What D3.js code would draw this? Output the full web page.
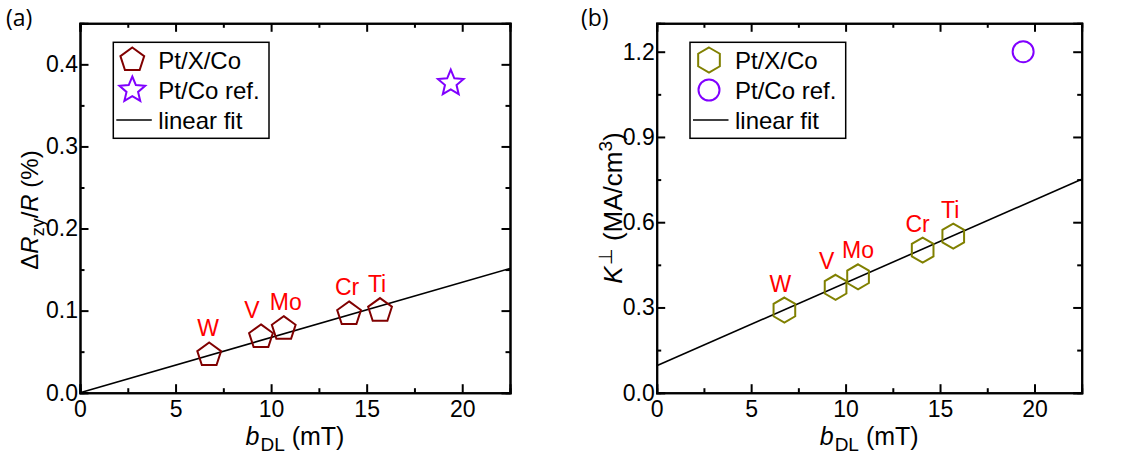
<!DOCTYPE html>
<html>
<head>
<meta charset="utf-8">
<script src="https://cdn.jsdelivr.net/npm/d3@7"></script>
<style>
  body { margin: 0; background: #fff; }
  svg { font-family: "Liberation Sans", Arial, sans-serif; }
</style>
</head>
<body>
<svg id="chart" width="1128" height="456"></svg>
<script>
// data
var metals = ["W", "V", "Mo", "Cr", "Ti"];
var bDL = [6.76, 9.47, 10.66, 14.08, 15.7];
var dRzy = [0.046, 0.068, 0.078, 0.096, 0.100];
var kPerp = [0.291, 0.371, 0.408, 0.502, 0.551];
var refB = [19.4];
var refDR = [0.377];
var refK = [1.2];
var fitDR = [0, 0.00673];     // intercept, slope
var fitK = [0.095, 0.02916];
var xMajor = [0, 5, 10, 15, 20];
var xMinor = [2.5, 7.5, 12.5, 17.5];
var yMajorA = [0, 0.1, 0.2, 0.3, 0.4];
var yMinorA = [0.05, 0.15, 0.25, 0.35];
var yMajorB = [0, 0.3, 0.6, 0.9, 1.2];
var yMinorB = [0.15, 0.45, 0.75, 1.05];

// little nudges for the metal labels (px)
var labelDxA = [-1, -9, 2, -2, -3];
var labelDxB = [-4, -9, 0, -5, -3];

var svg = d3.select("#chart");

// regular polygon / star path centred on 0,0
function polyPath(n, r, inner) {
    var pts = [];
    var steps = inner ? n * 2 : n;
    for (var i = 0; i < steps; i++) {
        var a = -Math.PI / 2 + i * Math.PI * 2 / steps;
        var rr = (inner && i % 2 == 1) ? r * inner : r;
        pts.push([rr * Math.cos(a), rr * Math.sin(a)]);
    }
    return "M" + pts.map(function(p) { return p[0].toFixed(2) + "," + p[1].toFixed(2); }).join("L") + "Z";
}

var shapes = {
    pentagon: function() { return polyPath(5, 12.5); },
    star: function() { return polyPath(5, 13.5, 0.45); },
    hexagon: function() { return polyPath(6, 12.5); },
    circle: function() { return d3.arc()({innerRadius: 0, outerRadius: 10.5, startAngle: 0, endAngle: 2 * Math.PI}); }
};

function drawPanel(o) {
    var x = d3.scaleLinear().domain([0, 22.5]).range([o.left, o.right]);
    var y = d3.scaleLinear().domain([0, o.yMax]).range([392.7, 23.3]);
    var g = svg.append("g");

    // frame ticks (inward, mirrored)
    function axisSet(axis, ticks, size, fmt, transform, pad) {
        var a = axis.tickValues(ticks).tickSize(-size).tickPadding(pad || 3);
        if (!fmt) a.tickFormat("");
        else a.tickFormat(fmt);
        var ax = g.append("g").attr("transform", transform).call(a);
        ax.select(".domain").attr("stroke-width", 2);
        ax.selectAll(".tick line").attr("stroke-width", 2);
        ax.selectAll("text").attr("font-size", 23).attr("fill", "#000")
            .attr("font-family", "Liberation Sans, Arial, sans-serif");
        return ax;
    }
    var bottom = "translate(0," + y(0) + ")", top = "translate(0," + y(o.yMax) + ")";
    var leftT = "translate(" + x(0) + ",0)", rightT = "translate(" + x(22.5) + ",0)";

    axisSet(d3.axisBottom(x), xMinor, 4.5, null, bottom);
    axisSet(d3.axisTop(x), xMinor, 4.5, null, top);
    axisSet(d3.axisLeft(y), o.yMinor, 4.5, null, leftT);
    axisSet(d3.axisRight(y), o.yMinor, 4.5, null, rightT);
    axisSet(d3.axisTop(x), xMajor, 8.5, null, top);
    axisSet(d3.axisRight(y), o.yMajor, 8.5, null, rightT);
    axisSet(d3.axisBottom(x), xMajor, 8.5, d3.format("d"), bottom, 8);
    axisSet(d3.axisLeft(y), o.yMajor, 8.5, d3.format(".1f"), leftT, 2);

    // linear fit
    g.append("line")
        .attr("x1", x(0)).attr("y1", y(o.fit[0]))
        .attr("x2", x(22.5)).attr("y2", y(o.fit[0] + o.fit[1] * 22.5))
        .attr("stroke", "#000").attr("stroke-width", 1.6);

    // Pt/X/Co points
    g.selectAll(".pt").data(bDL).enter().append("path")
        .attr("class", "pt")
        .attr("d", shapes[o.shape])
        .attr("transform", function(d, i) { return "translate(" + x(d) + "," + y(o.vals[i]) + ")"; })
        .attr("fill", "none").attr("stroke", o.color).attr("stroke-width", 2);

    g.selectAll(".lab").data(metals).enter().append("text")
        .attr("class", "lab")
        .attr("x", function(d, i) { return x(bDL[i]) + o.labelDx[i]; })
        .attr("y", function(d, i) { return y(o.vals[i]) - 18.5; })
        .attr("text-anchor", "middle")
        .attr("font-size", 23).attr("fill", "#ff0000")
        .text(function(d) { return d; });

    // reference point
    g.selectAll(".ref").data(refB).enter().append("path")
        .attr("class", "ref")
        .attr("d", shapes[o.refShape])
        .attr("transform", function(d, i) { return "translate(" + x(d) + "," + y(o.ref[i]) + ")"; })
        .attr("fill", "none").attr("stroke", "#8000ff").attr("stroke-width", 2);

    // legend
    var lx = o.left + 33.3, ly = 42.3;
    g.append("rect").attr("x", lx).attr("y", ly).attr("width", 155.7).attr("height", 96)
        .attr("fill", "#fff").attr("stroke", "#000").attr("stroke-width", 1.5);
    var rows = [
        {t: "Pt/X/Co", shape: o.shape, c: o.color, y: 60},
        {t: "Pt/Co ref.", shape: o.refShape, c: "#8000ff", y: 90},
        {t: "linear fit", shape: null, c: "#000", y: 120}
    ];
    rows.forEach(function(r) {
        if (r.shape) {
            g.append("path").attr("d", shapes[r.shape]())
                .attr("transform", "translate(" + (lx + 19) + "," + r.y + ")")
                .attr("fill", "none").attr("stroke", r.c).attr("stroke-width", 2);
        } else {
            g.append("line").attr("x1", lx + 3).attr("x2", lx + 38.5)
                .attr("y1", r.y).attr("y2", r.y).attr("stroke", "#000").attr("stroke-width", 1.6);
        }
        g.append("text").attr("x", lx + 45).attr("y", r.y + 8.5)
            .attr("font-size", 24).attr("fill", "#000").text(r.t);
    });

    // x title
    var xt = g.append("text").attr("x", (o.left + o.right) / 2).attr("y", 445)
        .attr("text-anchor", "middle").attr("font-size", 25).attr("fill", "#000");
    xt.append("tspan").attr("font-style", "italic").text("b");
    xt.append("tspan").attr("font-size", 19).attr("dy", 6).attr("dx", 1).text("DL");
    xt.append("tspan").attr("dy", -6).text(" (mT)");

    // y title
    var yt = g.append("text")
        .attr("transform", "translate(" + o.yTitleX + "," + o.yTitleY + ") rotate(-90)")
        .attr("text-anchor", "middle").attr("font-size", o.yTitleSize).attr("fill", "#000");
    o.yTitle(yt);

    // panel letter
    svg.append("text").attr("x", o.letterX).attr("y", 26).attr("font-size", 23)
        .attr("font-family", "Open Sans, sans-serif")
        .attr("fill", "#000").text(o.letter);
}

drawPanel({
    left: 80, right: 510, yMax: 0.45,
    yMajor: yMajorA, yMinor: yMinorA, fit: fitDR, vals: dRzy, ref: refDR,
    shape: "pentagon", refShape: "star", color: "#800000", labelDx: labelDxA,
    letter: "(a)", letterX: 6, yTitleX: 38, yTitleY: 210, yTitleSize: 24,
    yTitle: function(t) {
        t.append("tspan").text("\u0394");
        t.append("tspan").attr("font-style", "italic").text("R");
        t.append("tspan").attr("font-size", 18).attr("dy", 6).text("zy");
        t.append("tspan").attr("dy", -6).text("/");
        t.append("tspan").attr("font-style", "italic").text("R");
        t.append("tspan").text(" (%)");
    }
});

drawPanel({
    left: 656.7, right: 1081.7, yMax: 1.3,
    yMajor: yMajorB, yMinor: yMinorB, fit: fitK, vals: kPerp, ref: refK,
    shape: "hexagon", refShape: "circle", color: "#808000", labelDx: labelDxB,
    letter: "(b)", letterX: 581, yTitleX: 622, yTitleY: 208, yTitleSize: 26,
    yTitle: function(t) {
        t.append("tspan").attr("font-style", "italic").text("K");
        t.append("tspan").attr("font-size", 19).attr("dy", -10).attr("dx", 1).text("\u22A5");
        t.append("tspan").attr("dy", 10).text(" (MA/cm");
        t.append("tspan").attr("font-size", 19).attr("dy", -10).text("3");
        t.append("tspan").attr("dy", 10).text(")");
    }
});
</script>
</body>
</html>
